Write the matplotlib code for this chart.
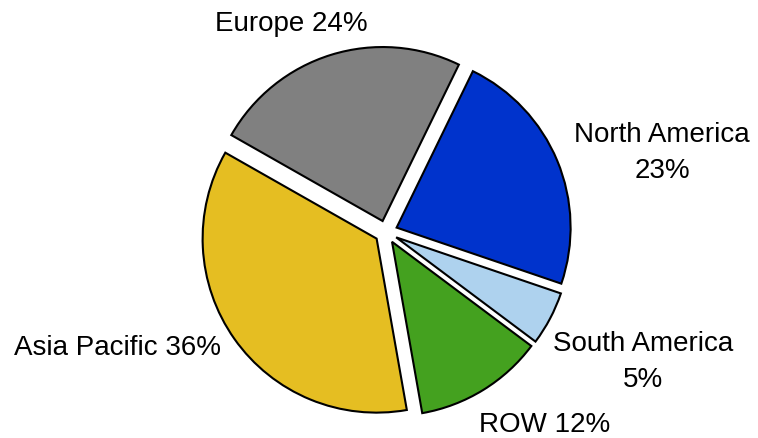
import matplotlib
matplotlib.use("Agg")
import matplotlib.pyplot as plt

regions = ["North America", "South America", "ROW", "Asia Pacific", "Europe"]
shares = [23, 5, 12, 36, 24]
label_texts = ["North America\n23%", "South America\n5%", "ROW 12%", "Asia Pacific 36%", "Europe 24%"]
colors = ["#0033CC", "#AED2EE", "#44A11F", "#E5BE22", "#808080"]

W, H = 758, 439
R = 174.0
cx, cy = 386.0, 233.0

fig = plt.figure(figsize=(W / 100, H / 100), dpi=100)
ax = fig.add_axes([0, 0, 1, 1])
ax.pie(shares, colors=colors, startangle=64, counterclock=False,
       explode=[0.066] * len(shares), radius=1.0,
       wedgeprops=dict(edgecolor="black", linewidth=1.5))
ax.set_xlim(-cx / R, (W - cx) / R)
ax.set_ylim(-(H - cy) / R, cy / R)
ax.set_aspect("equal")
ax.axis("off")

# label anchor positions (pixel coords of text centres)
label_pos = [(662, 153), (643, 362), (545, 425), (117, 348), (291, 24)]
for txt, (px, py) in zip(label_texts, label_pos):
    ax.text(px / W, 1 - py / H, txt, transform=ax.transAxes,
            ha="center", va="center", fontsize=20, family="Liberation Sans",
            linespacing=1.5)

fig.savefig("out.png", dpi=100)
